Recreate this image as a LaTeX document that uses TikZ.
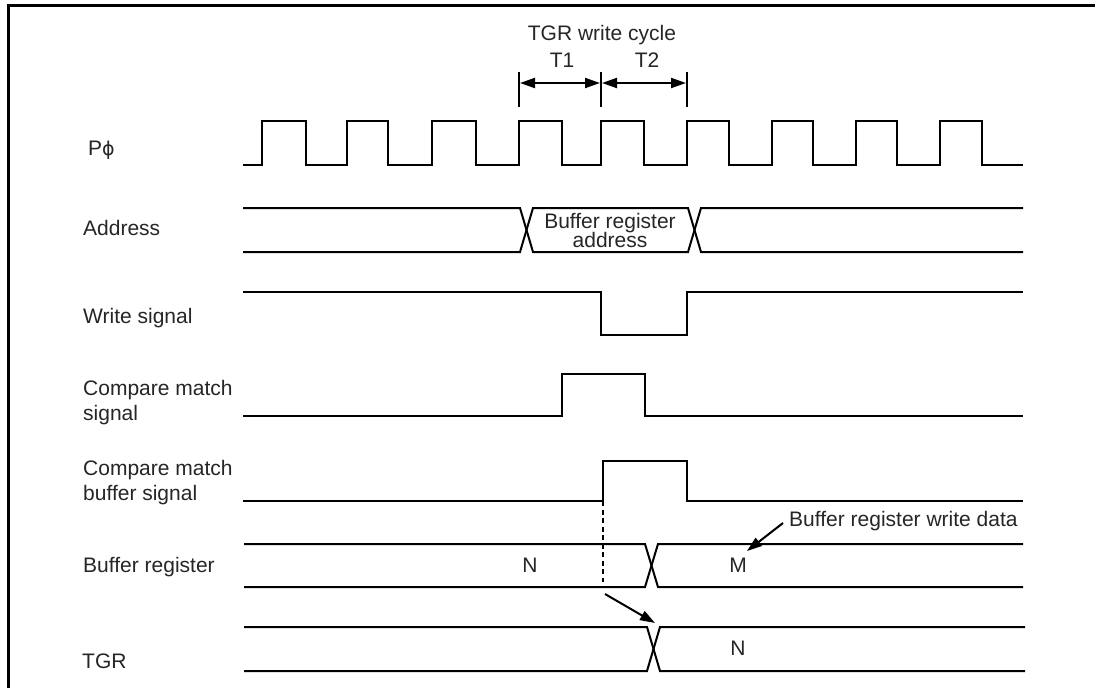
\documentclass[tikz,border=0pt]{standalone}
\usepackage{fontspec}
\setmainfont{Liberation Sans}
\newfontfamily\djv{DejaVu Sans}
\usetikzlibrary{arrows.meta}
\begin{document}
\begin{tikzpicture}[x=1pt,y=-1pt,
  sig/.style={line width=2pt, line join=miter, line cap=butt},
  lbl/.style={font=\fontsize{21}{24}\selectfont, inner sep=0pt, text=black!85},
  tipA/.style={-{Triangle[length=15pt,width=10pt]}},
  arr/.style={line width=2pt, tipA},
  darr/.style={line width=2pt, {Triangle[length=15pt,width=10pt]}-{Triangle[length=15pt,width=10pt]}}]
\useasboundingbox (0,0) rectangle (1095,688);
\fill[white] (0,0) rectangle (1095,688);
% frame
\draw[line width=3pt] (8,688) -- (8,5.5) -- (1095,5.5);

% left labels
\node[lbl,anchor=base west] (lphi) at (88,155) {P{\djv\fontsize{19}{24}\selectfont ϕ}};
\node[lbl,anchor=base west] (laddr) at (83,235) {Address};
\node[lbl,anchor=base west] (lwr) at (83,323) {Write signal};
\node[lbl,anchor=base west] (lcm1) at (83,395) {Compare match};
\node[lbl,anchor=base west] (lcm2) at (83,420) {signal};
\node[lbl,anchor=base west] (lcb1) at (83,475) {Compare match};
\node[lbl,anchor=base west] (lcb2) at (83,500) {buffer signal};
\node[lbl,anchor=base west] (lbr) at (83,572) {Buffer register};
\node[lbl,anchor=base west] (ltgr) at (82,668) {TGR};

% TGR write cycle markers
\node[lbl,anchor=base] (ttgr) at (602,40) {TGR write cycle};
\node[lbl,anchor=base] (tt1) at (562,67) {T1};
\node[lbl,anchor=base] (tt2) at (647,67) {T2};
\draw[sig] (519,72) -- (519,107);
\draw[sig] (601,72) -- (601,107);
\draw[sig] (687,72) -- (687,107);
\coordinate (m1) at (520,83);
\coordinate (m2) at (600,83);
\coordinate (m3) at (602,83);
\coordinate (m4) at (686,83);
\draw[darr] (m1) -- (m2);
\draw[darr] (m3) -- (m4);

% clock
\draw[sig] (243,165)
  foreach \r/\f in {262/306,347/388,432/476,519/562,601/644,687/729,772/813,856/897,940/982}
  { -- (\r,165) -- (\r,121) -- (\f,121) -- (\f,165) } -- (1023,165);

% address bus
\draw[sig] (243,208) -- (520,208) -- (533,252) -- (688,252) -- (701,208) -- (1023,208);
\draw[sig] (243,252) -- (520,252) -- (533,208) -- (688,208) -- (701,252) -- (1023,252);
\node[lbl,anchor=base] (ba1) at (610,228) {Buffer register};
\node[lbl,anchor=base] (ba2) at (610,247) {address};

% write signal
\draw[sig] (243,292) -- (601,292) -- (601,335) -- (687,335) -- (687,292) -- (1023,292);

% compare match signal
\draw[sig] (243,416) -- (562,416) -- (562,374) -- (645,374) -- (645,416) -- (1023,416);

% compare match buffer signal
\draw[sig] (243,501) -- (603,501) -- (603,461) -- (687,461) -- (687,501) -- (1023,501);
\draw[sig,dash pattern=on 5pt off 3.5pt] (603,501) -- (603,582);

% buffer register
\draw[sig] (244,544) -- (645,544) -- (658,587) -- (1023,587);
\draw[sig] (244,587) -- (645,587) -- (658,544) -- (1023,544);
\node[lbl,anchor=base] (bn) at (530,572) {N};
\node[lbl,anchor=base] (bm) at (738,572) {M};

% TGR
\draw[sig] (244,627) -- (647,627) -- (660,671) -- (1025,671);
\draw[sig] (244,671) -- (647,671) -- (660,627) -- (1025,627);
\node[lbl,anchor=base] (tn) at (738,655) {N};

% arrows
\coordinate (a1) at (605,594);
\coordinate (a2) at (655,623);
\draw[arr] (a1) -- (a2);
\node[lbl,anchor=base west] (bwd) at (789,526) {Buffer register write data};
\coordinate (bws) at (783,523);
\coordinate (bwt) at (747,551);
\draw[arr] (bws) -- (bwt);
\end{tikzpicture}
\end{document}
